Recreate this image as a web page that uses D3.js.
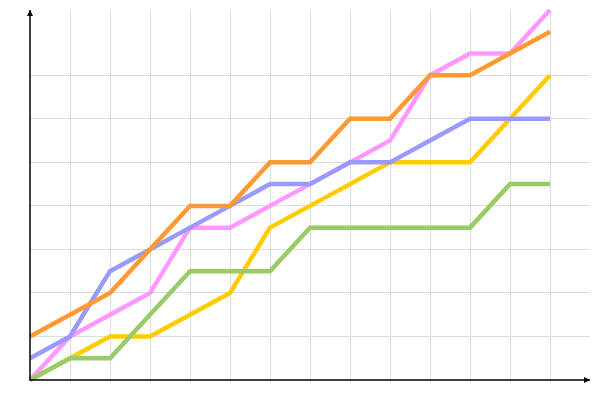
<!DOCTYPE html>
<html><head><meta charset="utf-8">
<script src="https://cdn.jsdelivr.net/npm/d3@7"></script>
<style>html,body{margin:0;padding:0;background:#fff;}svg{display:block;}</style>
</head><body>
<svg id="chart" width="600" height="400"></svg>
<script>
const steps = [0,1,2,3,4,5,6,7,8,9,10,11,12,13];
const yGridValues = [1,2,3,4,5,6,7];
const orange = [1,1.5,2,3,4,4,5,5,6,6,7,7,7.5,8];
const blue   = [0.5,1,2.5,3,3.5,4,4.5,4.5,5,5,5.5,6,6,6];
const pink   = [0,1,1.5,2,3.5,3.5,4,4.5,5,5.5,7,7.5,7.5,8.5];
const yellow = [0,0.5,1,1,1.5,2,3.5,4,4.5,5,5,5,6,7];
const green  = [0,0.5,0.5,1.5,2.5,2.5,2.5,3.5,3.5,3.5,3.5,3.5,4.5,4.5];

const series = [
  {values: yellow, color: "#ffcc00"},
  {values: pink,   color: "#ff99ff"},
  {values: blue,   color: "#9999ff"},
  {values: orange, color: "#ff9933"},
  {values: green,  color: "#99cc66"}
];

const svg = d3.select("#chart");
const x = d3.scaleLinear().domain([0,14]).range([30,590]);
const y = d3.scaleLinear().domain([0,8.5]).range([380,10]);

// grid
svg.append("g").selectAll("line").data(steps.slice(1)).join("line")
  .attr("x1", d=>x(d)).attr("x2", d=>x(d)).attr("y1", y(0)).attr("y2", y(8.5))
  .attr("stroke", "#dddddd").attr("stroke-width", 1).attr("shape-rendering","crispEdges");
svg.append("g").selectAll("line").data(yGridValues).join("line")
  .attr("x1", x(0)).attr("x2", x(14)).attr("y1", d=>y(d)).attr("y2", d=>y(d))
  .attr("stroke", "#dddddd").attr("stroke-width", 1).attr("shape-rendering","crispEdges");

// lines
const line = d3.line().x((d,i)=>x(steps[i])).y(d=>y(d));
svg.append("g").selectAll("path").data(series).join("path")
  .attr("d", d=>line(d.values))
  .attr("fill","none").attr("stroke", d=>d.color).attr("stroke-width", 4.5)
  .attr("stroke-linejoin","miter");

// axes
const defs = svg.append("defs");
defs.append("marker").attr("id","arr").attr("viewBox","0 0 10 10").attr("refX",10).attr("refY",5)
  .attr("markerWidth",6).attr("markerHeight",6).attr("markerUnits","userSpaceOnUse").attr("orient","auto")
  .append("path").attr("d","M0,0L10,5L0,10Z").attr("fill","#000");
svg.append("line").attr("x1", x(0)).attr("x2", x(0)).attr("y1", y(0)+0.5).attr("y2", y(8.5))
  .attr("stroke","#000").attr("stroke-width",1.5).attr("marker-end","url(#arr)");
svg.append("line").attr("x1", x(0)-0.5).attr("x2", x(14)).attr("y1", y(0)).attr("y2", y(0))
  .attr("stroke","#000").attr("stroke-width",1.5).attr("marker-end","url(#arr)");
</script>
</body></html>
